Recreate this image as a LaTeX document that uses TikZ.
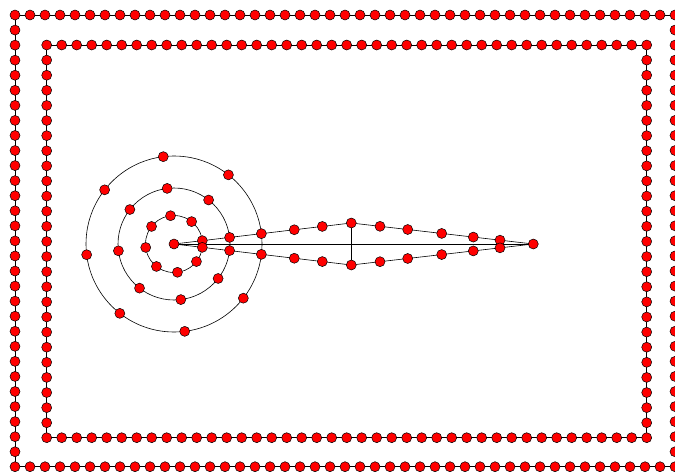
\documentclass[tikz,border=0pt]{standalone}
\usepackage{xcolor}
\usetikzlibrary{backgrounds,calc}

\tikzset{
  vtx/.style={circle, draw=black, fill=red, line width=0.5pt, inner sep=0pt, minimum size=10pt},
  edg/.style={draw=black, line width=0.6pt}
}

\begin{document}
\begin{tikzpicture}[x=1pt,y=-1pt]
  \useasboundingbox (0,0) rectangle (675,472);
  % outer frame
  \foreach \i in {0,...,44} {
    \node[vtx] (ot\i) at ({15+15*\i},15) {};
    \node[vtx] (ob\i) at ({15+15*\i},466.7) {};
  }
  \foreach \k in {1,...,29} {
    \node[vtx] (ol\k) at (15,{15+15.06*\k}) {};
    \node[vtx] (or\k) at (675,{15+15.06*\k}) {};
  }
  % inner frame
  \foreach \i in {0,...,40} {
    \node[vtx] (it\i) at ({46.7+15*\i},45) {};
    \node[vtx] (ib\i) at ({46.7+15*\i},437.7) {};
  }
  \foreach \k in {1,...,25} {
    \node[vtx] (il\k) at (46.7,{45+15.11*\k}) {};
    \node[vtx] (ir\k) at (646.7,{45+15.11*\k}) {};
  }
  % target and wings
  \node[vtx] (c) at (174,244) {};
  \node[vtx] (tip) at (533.3,244) {};
  \node[vtx] (up) at (351.3,223) {};
  \node[vtx] (lo) at (351.3,265) {};
  \foreach \r [count=\m] in {28.5,56,88}
    \foreach \a [count=\n] in {6.75,51.8,97,142,187,232,277,322,-6.75}
      \node[vtx] (r\m-\n) at ($(c)+(-\a:\r)$) {};
  \foreach \x [count=\n] in {294.3,322.3} {
    \node[vtx] (ua\n) at (\x,{244-21*(\x-174)/177.3}) {};
    \node[vtx] (la\n) at (\x,{244+21*(\x-174)/177.3}) {};
  }
  \foreach \x [count=\n] in {380,407.7,441.7,473.3,500} {
    \node[vtx] (ub\n) at (\x,{223+21*(\x-351.3)/182}) {};
    \node[vtx] (lb\n) at (\x,{265-21*(\x-351.3)/182}) {};
  }
  \begin{scope}[on background layer]
    \draw[edg] (ot0.center) -- (ot44.center) -- (ob44.center) -- (ob0.center) -- cycle;
    \draw[edg] (it0.center) -- (it40.center) -- (ib40.center) -- (ib0.center) -- cycle;
    \foreach \r in {28.5,56,88}
      \draw[edg] (c.center) circle[radius=\r];
    \draw[edg] (c.center) -- (up.center) -- (tip.center) -- (lo.center) -- (c.center);
    \draw[edg] (c.center) -- (tip.center);
    \draw[edg] (up.center) -- (lo.center);
  \end{scope}
\end{tikzpicture}
\end{document}
